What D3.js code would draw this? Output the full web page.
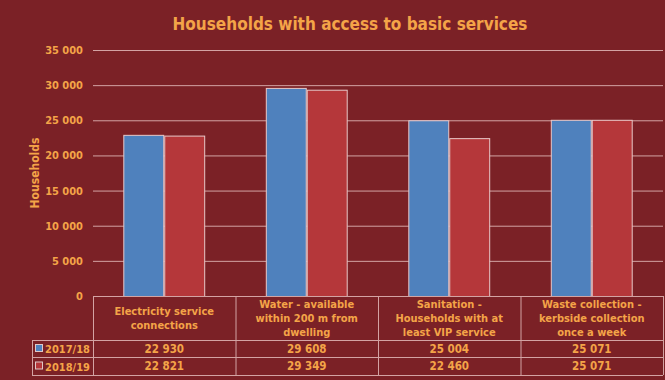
<!DOCTYPE html>
<html>
<head>
<meta charset="utf-8">
<script src="https://cdn.jsdelivr.net/npm/d3@7"></script>
<style>
  html, body { margin: 0; padding: 0; background: #7b2126; }
  svg { display: block; }
</style>
</head>
<body>
<svg id="chart" width="665" height="380"></svg>
<script>
// Chart data
const categories = [
  ["Electricity service", "connections"],
  ["Water - available", "within 200 m from", "dwelling"],
  ["Sanitation -", "Households with at", "least VIP service"],
  ["Waste collection -", "kerbside collection", "once a week"]
];
const seriesNames = ["2017/18", "2018/19"];
const values2017 = [22930, 29608, 25004, 25071];
const values2018 = [22821, 29349, 22460, 25071];
const yTicks = [0, 5000, 10000, 15000, 20000, 25000, 30000, 35000];

const series = [values2017, values2018];
const colors = ["#4f81bd", "#b5373a"];
const textColor = "#f4a448";
const lineColor = "#d3a3a3";
const font = "'DejaVu Sans Condensed', 'DejaVu Sans', sans-serif";

const svg = d3.select("#chart");
const W = 665, H = 380;
const plotLeft = 93, plotRight = 663, plotTop = 50, plotBottom = 296;
const headerBottom = 340, row1Bottom = 357, row2Bottom = 375, legendLeft = 32;

svg.append("rect").attr("width", W).attr("height", H).attr("fill", "#7b2126");

// Title
svg.append("text")
  .attr("x", 350).attr("y", 30)
  .attr("text-anchor", "middle")
  .attr("font-family", font).attr("font-weight", "bold")
  .attr("font-size", 17).attr("fill", textColor)
  .text("Households with access to basic services");

const idx = d3.range(categories.length);
const x0 = d3.scaleBand().domain(idx).range([plotLeft, plotRight]).paddingInner(0).paddingOuter(0);
const x1 = d3.scaleBand().domain(d3.range(series.length)).range([0, x0.bandwidth()]).paddingInner(0).paddingOuter(0.74);
const y = d3.scaleLinear().domain([0, 35000]).range([plotBottom, plotTop]);

const fmt = v => d3.format(",")(v).replace(/,/g, " ");

// Gridlines and y axis labels
const yAxis = d3.axisLeft(y).tickValues(yTicks).tickSize(0).tickPadding(10).tickFormat(fmt);
const gy = svg.append("g").attr("transform", `translate(${plotLeft},0)`).call(yAxis);
gy.select(".domain").remove();
gy.selectAll("text")
  .attr("font-family", font).attr("font-weight", "bold")
  .attr("font-size", 11).attr("fill", textColor);
svg.append("g").selectAll("line")
  .data(yTicks.filter(t => t > 0))
  .join("line")
  .attr("x1", plotLeft).attr("x2", plotRight)
  .attr("y1", d => y(d) + 0.5).attr("y2", d => y(d) + 0.5)
  .attr("stroke", lineColor).attr("stroke-width", 1);

// Axis title
svg.append("text")
  .attr("transform", `translate(39,${(plotTop + plotBottom) / 2}) rotate(-90)`)
  .attr("text-anchor", "middle")
  .attr("font-family", font).attr("font-weight", "bold")
  .attr("font-size", 12).attr("fill", textColor)
  .text("Households");

// Bars
series.forEach((vals, s) => {
  svg.append("g").selectAll("rect")
    .data(vals)
    .join("rect")
    .attr("x", (d, i) => x0(i) + x1(s) + 0.5)
    .attr("y", d => y(d) + 0.5)
    .attr("width", x1.bandwidth() - 1)
    .attr("height", d => plotBottom - y(d))
    .attr("fill", colors[s])
    .attr("stroke", "#e8c8c8").attr("stroke-width", 1);
});

// Data table
const tg = svg.append("g");
const hline = (xa, xb, yy) => tg.append("line").attr("x1", xa).attr("x2", xb)
  .attr("y1", yy + 0.5).attr("y2", yy + 0.5).attr("stroke", lineColor);
const vline = (xx, ya, yb) => tg.append("line").attr("x1", xx + 0.5).attr("x2", xx + 0.5)
  .attr("y1", ya).attr("y2", yb).attr("stroke", lineColor);

hline(plotLeft, plotRight, plotBottom);
hline(legendLeft, plotRight, headerBottom);
hline(legendLeft, plotRight, row1Bottom);
hline(legendLeft, plotRight, row2Bottom);
idx.forEach(i => vline(x0(i), plotBottom, row2Bottom));
vline(plotRight, plotBottom, row2Bottom);
vline(legendLeft, headerBottom, row2Bottom);

// Category headers
idx.forEach(i => {
  const lines = categories[i];
  const cx = x0(i) + x0.bandwidth() / 2;
  const lh = 14;
  const startY = (plotBottom + headerBottom) / 2 - (lines.length - 1) * lh / 2 + 4;
  const t = tg.append("text")
    .attr("text-anchor", "middle")
    .attr("font-family", font).attr("font-weight", "bold")
    .attr("font-size", 11).attr("fill", textColor);
  lines.forEach((ln, k) => t.append("tspan").attr("x", cx).attr("y", startY + k * lh).text(ln));
});

// Value rows and legend keys
const rowTops = [headerBottom, row1Bottom];
const rowBottoms = [row1Bottom, row2Bottom];
series.forEach((vals, s) => {
  const cy = (rowTops[s] + rowBottoms[s]) / 2;
  tg.append("rect")
    .attr("x", 35.5).attr("y", cy - 4)
    .attr("width", 7).attr("height", 7)
    .attr("fill", colors[s]).attr("stroke", "#e0c8c8");
  tg.append("text")
    .attr("x", 45).attr("y", cy + 4.5)
    .attr("font-family", font).attr("font-weight", "bold")
    .attr("font-size", 11).attr("fill", textColor)
    .text(seriesNames[s]);
  tg.append("g").selectAll("text")
    .data(vals)
    .join("text")
    .attr("x", (d, i) => x0(i) + x0.bandwidth() / 2)
    .attr("y", cy + 4)
    .attr("text-anchor", "middle")
    .attr("font-family", font).attr("font-weight", "bold")
    .attr("font-size", 11.5).attr("fill", textColor)
    .text(fmt);
});
</script>
</body>
</html>
